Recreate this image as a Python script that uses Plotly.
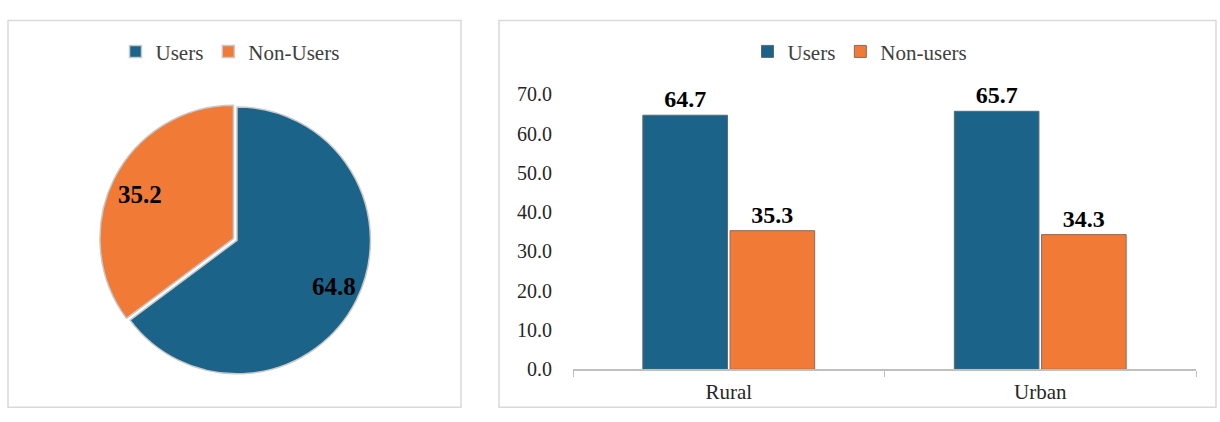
import math
import plotly.graph_objects as go

W, H = 1220, 422

pie_labels = ["Users", "Non-Users"]
pie_values = [64.8, 35.2]

categories = ["Rural", "Urban"]
users = [64.7, 65.7]
non_users = [35.3, 34.3]

blue = "#1B6389"
orange = "#F07A36"
font_family = "Liberation Serif"

# pie geometry (pixels)
cx, cy, half = 237, 242, 145
pull = [0, 0.03]
radius = half / (1 + max(pull))

fig = go.Figure()

fig.add_trace(go.Pie(
    labels=pie_labels, values=pie_values, sort=False, direction="clockwise",
    rotation=0, pull=pull,
    marker=dict(colors=[blue, orange], line=dict(color="#c8c8c8", width=1.5)),
    textinfo="none",
    domain=dict(x=[(cx - half) / W, (cx + half) / W], y=[(H - cy - half) / H, (H - cy + half) / H]),
    legend="legend", hoverinfo="label+value",
))

# pie value labels placed along each slice's mid-angle
annotations = []
total = sum(pie_values)
cum = 0.0
for v in pie_values:
    theta = 2 * math.pi * (cum + v / 2) / total
    cum += v
    px = cx + 0.77 * radius * math.sin(theta)
    py = cy - 0.77 * radius * math.cos(theta)
    annotations.append(dict(x=px / W, y=1 - py / H, xref="paper", yref="paper",
                            xanchor="center", yanchor="middle",
                            text=f"<b>{v:.1f}</b>", showarrow=False,
                            font=dict(family=font_family, size=25, color="black")))

fig.add_trace(go.Bar(
    x=categories, y=users, name="Users", marker=dict(color=blue, line=dict(color="#5a6a72", width=1)),
    text=[f"<b>{v:.1f}</b>" for v in users], textposition="outside", cliponaxis=False,
    textfont=dict(family=font_family, size=24, color="black"), legend="legend2",
))
fig.add_trace(go.Bar(
    x=categories, y=non_users, name="Non-users", marker=dict(color=orange, line=dict(color="#8a6a5a", width=1)),
    text=[f"<b>{v:.1f}</b>" for v in non_users], textposition="outside", cliponaxis=False,
    textfont=dict(family=font_family, size=24, color="black"), legend="legend2",
))

fig.update_layout(
    width=W, height=H, margin=dict(l=0, r=0, t=0, b=0),
    paper_bgcolor="white", plot_bgcolor="white",
    font=dict(family=font_family, size=20, color="#404040"),
    barmode="group", bargap=0.44, bargroupgap=0.03,
    xaxis=dict(domain=[573 / W, 1196 / W], anchor="y", showline=True, linecolor="#bfbfbf",
               linewidth=1.5, ticks="outside", tickson="boundaries", ticklen=6, tickcolor="#bfbfbf",
               showgrid=False, ticklabelstandoff=3, tickfont=dict(size=21, color="#262626")),
    yaxis=dict(domain=[44 / H, 334 / H], anchor="x", range=[0, 70], dtick=10, tickformat=".1f",
               showgrid=False, showline=False, zeroline=False, ticks="", ticklabelstandoff=20,
               tickfont=dict(size=20, color="#262626")),
    legend=dict(orientation="h", x=230 / W, xanchor="center", y=1 - 43 / H, yanchor="middle",
                font=dict(size=21, color="#404040"), itemwidth=30, tracegroupgap=0),
    legend2=dict(orientation="h", x=860 / W, xanchor="center", y=1 - 43 / H, yanchor="middle",
                 font=dict(size=21, color="#404040"), itemwidth=30),
    annotations=annotations,
    shapes=[
        dict(type="rect", xref="paper", yref="paper", x0=8 / W, x1=461 / W, y0=4 / H, y1=1 - 10 / H,
             line=dict(color="#d9d9d9", width=1.5)),
        dict(type="rect", xref="paper", yref="paper", x0=499 / W, x1=1216 / W, y0=4 / H, y1=1 - 10 / H,
             line=dict(color="#d9d9d9", width=1.5)),
    ],
)

fig.write_html("out.html")
